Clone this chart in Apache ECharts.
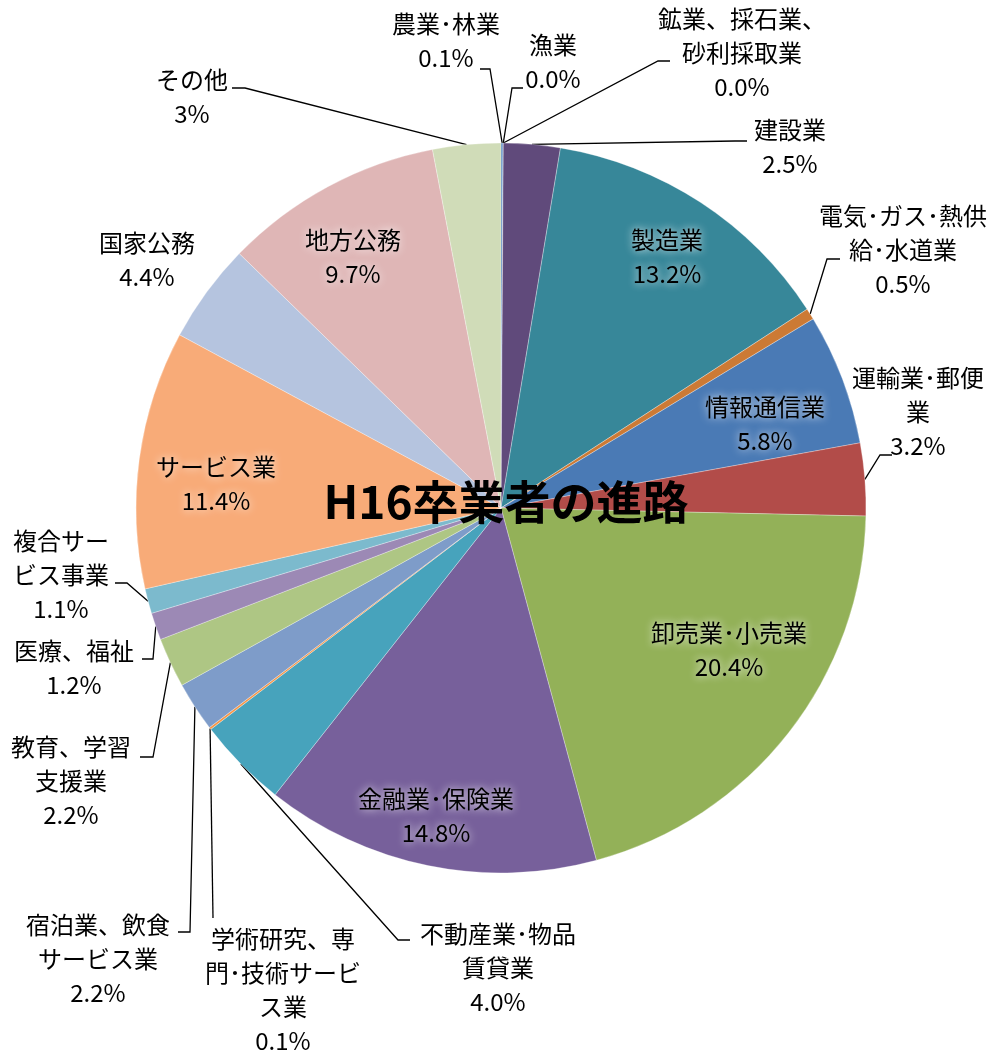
<!DOCTYPE html>
<html>
<head>
<meta charset="utf-8">
<title>H16卒業者の進路</title>
<script src="https://cdn.jsdelivr.net/npm/echarts@6/dist/echarts.min.js"></script>
<style>
  html, body { margin: 0; padding: 0; background: #fff; }
  #chart { width: 996px; height: 1053px; }
</style>
</head>
<body>
<div id="chart"></div>
<script>
// 業種（時計回り、12時の位置から）
var categories = ['農業・林業', '漁業', '鉱業、採石業、砂利採取業', '建設業', '製造業',
  '電気・ガス・熱供給・水道業', '情報通信業', '運輸業・郵便業', '卸売業・小売業', '金融業・保険業',
  '不動産業・物品賃貸業', '学術研究、専門・技術サービス業', '宿泊業、飲食サービス業', '教育、学習支援業',
  '医療、福祉', '複合サービス事業', 'サービス業', '国家公務', '地方公務', 'その他'];
var values = [0.1, 0.0, 0.0, 2.5, 13.2, 0.5, 5.8, 3.2, 20.4, 14.8, 4.0, 0.1, 2.2, 2.2, 1.2, 1.1, 11.4, 4.4, 9.7, 3];
var percentText = ['0.1%', '0.0%', '0.0%', '2.5%', '13.2%', '0.5%', '5.8%', '3.2%', '20.4%', '14.8%',
  '4.0%', '0.1%', '2.2%', '2.2%', '1.2%', '1.1%', '11.4%', '4.4%', '9.7%', '3%'];
// ラベル表示用（改行位置は元の図に合わせる、中黒は半角）
var labelNames = ['農業･林業', '漁業', '鉱業、採石業、\n砂利採取業', '建設業', '製造業',
  '電気･ガス･熱供\n給･水道業', '情報通信業', '運輸業･郵便\n業', '卸売業･小売業', '金融業･保険業',
  '不動産業･物品\n賃貸業', '学術研究、専\n門･技術サービ\nス業', '宿泊業、飲食\nサービス業', '教育、学習\n支援業',
  '医療、福祉', '複合サー\nビス事業', 'サービス業', '国家公務', '地方公務', 'その他'];

var colors = ['#4f81bd', '#c0504d', '#9bbb59', '#604a7b', '#378799', '#cc7a35', '#4a7ab5', '#b24c49',
  '#93b158', '#77609b', '#47a3bc', '#f79646', '#7e9cc9', '#aec684', '#9c89b5', '#7cbacd',
  '#f8ab78', '#b5c4df', '#dfb6b6', '#d0dcb8'];

// ラベル位置と引き出し線の折れ点
var labelPos = [
  { x: 446, y: 41, stub: [[480, 69], [490, 69]] },
  { x: 553, y: 62, stub: [[523, 88], [512, 88]] },
  { x: 742, y: 53, stub: [[670, 61], [658, 61]] },
  { x: 790, y: 147, stub: [[747, 141], [735, 141]] },
  { x: 667, y: 257, inside: true },
  { x: 903, y: 250, stub: [[840, 259], [827, 259]] },
  { x: 765, y: 424, inside: true },
  { x: 918, y: 412, stub: [[892, 455], [880, 455]] },
  { x: 729, y: 650, inside: true },
  { x: 436, y: 816, inside: true },
  { x: 498, y: 968, stub: [[410, 940], [398, 940]] },
  { x: 283, y: 990, stub: [[213, 918], [213, 918]] },
  { x: 98, y: 959, stub: [[178, 932], [190, 932]] },
  { x: 71, y: 781, stub: [[140, 757], [153, 757]] },
  { x: 74, y: 668, stub: [[142, 659], [153, 659]] },
  { x: 61, y: 575, stub: [[115, 583], [127, 583]] },
  { x: 216, y: 484, inside: true },
  { x: 147, y: 260 },
  { x: 353, y: 257, inside: true },
  { x: 192, y: 97, stub: [[232, 88], [245, 88]] }
];

var pieData = categories.map(function (c, i) {
  var p = labelPos[i];
  return {
    name: c,
    value: values[i],
    itemStyle: { color: colors[i] },
    label: p.inside ? { textShadowColor: 'rgba(255,255,255,0.95)', textShadowBlur: 8 } : {},
    labelLine: { show: !!p.stub }
  };
});

var chart = echarts.init(document.getElementById('chart'));
chart.setOption({
  animation: false,
  series: [{
    type: 'pie',
    center: [501, 508],
    radius: 365,
    startAngle: 90,
    avoidLabelOverlap: false,
    data: pieData,
    itemStyle: { borderColor: 'rgba(255,255,255,0.6)', borderWidth: 0.5 },
    label: {
      show: true,
      position: 'outside',
      color: '#000',
      fontSize: 24,
      lineHeight: 34,
      fontFamily: '"Noto Sans CJK JP", "Noto Sans", sans-serif',
      formatter: function (p) {
        return labelNames[p.dataIndex] + '\n' + percentText[p.dataIndex];
      }
    },
    labelLine: {
      show: true,
      smooth: false,
      lineStyle: { color: '#000', width: 1.3 }
    },
    labelLayout: function (p) {
      var L = labelPos[p.dataIndex];
      var o = { x: L.x, y: L.y, align: 'center', verticalAlign: 'middle' };
      if (L.stub && p.labelLinePoints) {
        o.labelLinePoints = [p.labelLinePoints[0], L.stub[1], L.stub[0]];
      }
      return o;
    }
  }],
  graphic: [{
    type: 'text',
    x: 506,
    y: 502,
    z: 100,
    style: {
      text: 'H16卒業者の進路',
      fontSize: 46,
      fontWeight: 'bold',
      fontFamily: '"Noto Sans CJK JP", sans-serif',
      fill: '#000',
      align: 'center',
      verticalAlign: 'middle',
      shadowBlur: 14,
      shadowColor: '#fff'
    }
  }]
});
</script>
</body>
</html>
